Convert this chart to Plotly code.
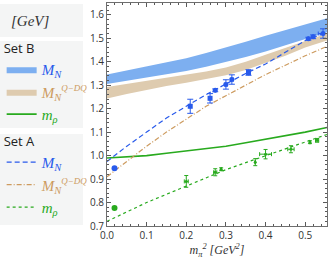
import plotly.graph_objects as go

# ---------------- data ----------------
band_x = [0.0, 0.05, 0.1, 0.15, 0.2, 0.25, 0.3, 0.35, 0.4, 0.45, 0.5, 0.555]
setB_MN_upper = [1.345, 1.362, 1.378, 1.395, 1.415, 1.437, 1.460, 1.485, 1.510, 1.535, 1.560, 1.585]
setB_MN_lower = [1.305, 1.318, 1.332, 1.346, 1.360, 1.378, 1.398, 1.420, 1.443, 1.468, 1.495, 1.525]
setB_QDQ_upper = [1.292, 1.305, 1.318, 1.332, 1.345, 1.358, 1.375, 1.400, 1.430, 1.460, 1.490, 1.520]
setB_QDQ_lower = [1.243, 1.262, 1.280, 1.296, 1.310, 1.325, 1.342, 1.365, 1.395, 1.425, 1.460, 1.490]
setB_rho = [0.990, 0.995, 1.000, 1.010, 1.020, 1.030, 1.040, 1.055, 1.070, 1.085, 1.100, 1.120]

setA_MN = [0.975, 1.040, 1.100, 1.160, 1.210, 1.260, 1.305, 1.350, 1.390, 1.440, 1.490, 1.525]
setA_QDQ = [0.910, 0.975, 1.040, 1.100, 1.155, 1.210, 1.255, 1.300, 1.345, 1.385, 1.425, 1.465]
setA_rho = [0.720, 0.760, 0.800, 0.835, 0.870, 0.905, 0.940, 0.970, 1.000, 1.030, 1.060, 1.090]

# lattice points (nucleon)
MN_x = [0.21, 0.26, 0.273, 0.30, 0.315, 0.357, 0.508, 0.52, 0.545]
MN_y = [1.21, 1.244, 1.278, 1.303, 1.324, 1.354, 1.498, 1.506, 1.52]
MN_ey = [0.03, 0.02, 0.006, 0.02, 0.02, 0.012, 0.006, 0.008, 0.02]
MN_ex = [0.0, 0.0, 0.0, 0.004, 0.004, 0.0, 0.0, 0.0, 0.012]
MN_sym = ["square", "square", "circle", "circle", "circle", "square", "circle", "circle", "circle"]

# lattice points (rho)
rho_x = [0.20, 0.273, 0.288, 0.374, 0.40, 0.464, 0.512, 0.53]
rho_y = [0.89, 0.929, 0.942, 0.972, 1.006, 1.027, 1.057, 1.065]
rho_ey = [0.025, 0.015, 0.006, 0.015, 0.02, 0.015, 0.006, 0.008]
rho_ex = [0.005, 0.004, 0.0, 0.0, 0.015, 0.008, 0.0, 0.004]

# physical points
phys_x = [0.019, 0.019]
phys_y = [0.946, 0.777]

# ---------------- styles ----------------
BLUE = "rgb(40,90,235)"
BLUE_BAND = "rgb(125,175,240)"
TAN = "rgb(205,155,95)"
TAN_BAND = "rgb(222,203,175)"
GREEN = "rgb(40,170,30)"
LEG_BG = "rgb(244,245,245)"
SERIF = "Liberation Serif"

def lbl(text, color):
    return f'<span style="color:{color}">{text}</span>'

MN_txt = "<i>M</i><sub><i>N</i></sub>"
QDQ_txt = "<i>M</i><sub><i>N</i></sub><sup><span style=\"font-size:9px\"><i>Q−DQ</i></span></sup>"
rho_txt = "<i>m</i><sub><i>ρ</i></sub>"

fig = go.Figure()

# Set B bands
fig.add_trace(go.Scatter(
    x=band_x + band_x[::-1], y=setB_MN_upper + setB_MN_lower[::-1],
    fill="toself", fillcolor=BLUE_BAND, line=dict(width=0), mode="lines",
    name=lbl(MN_txt, BLUE), legend="legend2", hoverinfo="skip"))
fig.add_trace(go.Scatter(
    x=band_x + band_x[::-1], y=setB_QDQ_upper + setB_QDQ_lower[::-1],
    fill="toself", fillcolor=TAN_BAND, line=dict(width=0), mode="lines",
    name=lbl(QDQ_txt, TAN), legend="legend2", hoverinfo="skip"))
fig.add_trace(go.Scatter(
    x=band_x, y=setB_rho, mode="lines", line=dict(color=GREEN, width=1.6),
    name=lbl(rho_txt, GREEN), legend="legend2"))

# Set A lines
fig.add_trace(go.Scatter(
    x=band_x, y=setA_MN, mode="lines", line=dict(color=BLUE, width=1.2, dash="5px,3px"),
    name=lbl(MN_txt, BLUE), legend="legend3"))
fig.add_trace(go.Scatter(
    x=band_x, y=setA_QDQ, mode="lines", line=dict(color=TAN, width=1.2, dash="5px,2px,1px,2px"),
    name=lbl(QDQ_txt, TAN), legend="legend3"))
fig.add_trace(go.Scatter(
    x=band_x, y=setA_rho, mode="lines", line=dict(color=GREEN, width=1.2, dash="3px,3px"),
    name=lbl(rho_txt, GREEN), legend="legend3"))

# data points
fig.add_trace(go.Scatter(
    x=MN_x, y=MN_y, mode="markers", showlegend=False,
    marker=dict(color=BLUE, size=5, symbol=MN_sym),
    error_y=dict(type="data", array=MN_ey, color=BLUE, thickness=1, width=3),
    error_x=dict(type="data", array=MN_ex, color=BLUE, thickness=1, width=2)))
fig.add_trace(go.Scatter(
    x=rho_x, y=rho_y, mode="markers", showlegend=False,
    marker=dict(color=GREEN, size=3, symbol="circle"),
    error_y=dict(type="data", array=rho_ey, color=GREEN, thickness=1, width=2),
    error_x=dict(type="data", array=rho_ex, color=GREEN, thickness=1, width=2)))
fig.add_trace(go.Scatter(
    x=phys_x, y=phys_y, mode="markers", showlegend=False,
    marker=dict(color=[BLUE, GREEN], size=6, symbol="circle")))

W, H = 331, 265
L, R, T, B = 107, 4, 3, 39
pw, ph = W - L - R, H - T - B

def px2paper_x(px):
    return (px - L) / pw

def py2paper_y(py):
    return (H - B - py) / ph

shapes = []
for (y0, y1) in [(4, 37), (41, 128), (134, 225)]:
    shapes.append(dict(type="rect", xref="paper", yref="paper",
                       x0=px2paper_x(0), x1=px2paper_x(83),
                       y0=py2paper_y(y1), y1=py2paper_y(y0),
                       fillcolor=LEG_BG, line=dict(width=0), layer="below"))

axis_common = dict(showline=True, linecolor="rgb(110,110,110)", linewidth=1, mirror="ticks",
                   ticks="inside", ticklen=4, tickcolor="rgb(90,90,90)", showgrid=False,
                   zeroline=False, automargin=False,
                   tickfont=dict(family="Open Sans", size=10, color="#333"),
                   minor=dict(ticks="inside", ticklen=2, tickcolor="rgb(90,90,90)"))

fig.update_layout(
    width=W, height=H, margin=dict(l=L, r=R, t=T, b=B, autoexpand=False),
    paper_bgcolor="white", plot_bgcolor="white",
    shapes=shapes,
    xaxis=dict(range=[0, 0.555], dtick=0.1, tickformat=".1f",
               title=dict(text="<i>m<sub>π</sub><sup>2</sup> [GeV<sup>2</sup>]</i>",
                          font=dict(family=SERIF, size=12, color="#333"), standoff=2),
               **axis_common),
    yaxis=dict(range=[0.7, 1.65], dtick=0.1, tickformat=".1f", **axis_common),
    legend2=dict(xref="container", yref="container", x=0.005, y=1 - 36 / H,
                 xanchor="left", yanchor="top", bgcolor="rgba(0,0,0,0)",
                 title=dict(text="Set B", font=dict(family="Open Sans", size=13, color="#222")),
                 font=dict(family=SERIF, size=15), itemwidth=30, tracegroupgap=0),
    legend3=dict(xref="container", yref="container", x=0.005, y=1 - 129 / H,
                 xanchor="left", yanchor="top", bgcolor="rgba(0,0,0,0)",
                 title=dict(text="Set A", font=dict(family="Open Sans", size=13, color="#222")),
                 font=dict(family=SERIF, size=15), itemwidth=30, tracegroupgap=0),
    annotations=[dict(text="<i>[GeV]</i>", xref="paper", yref="paper",
                      x=px2paper_x(9), y=py2paper_y(21), xanchor="left", yanchor="middle",
                      showarrow=False, font=dict(family=SERIF, size=15, color="#333"))],
)

fig.write_html("out.html", config={"displayModeBar": False},
               post_script="document.body.style.margin='0';")
